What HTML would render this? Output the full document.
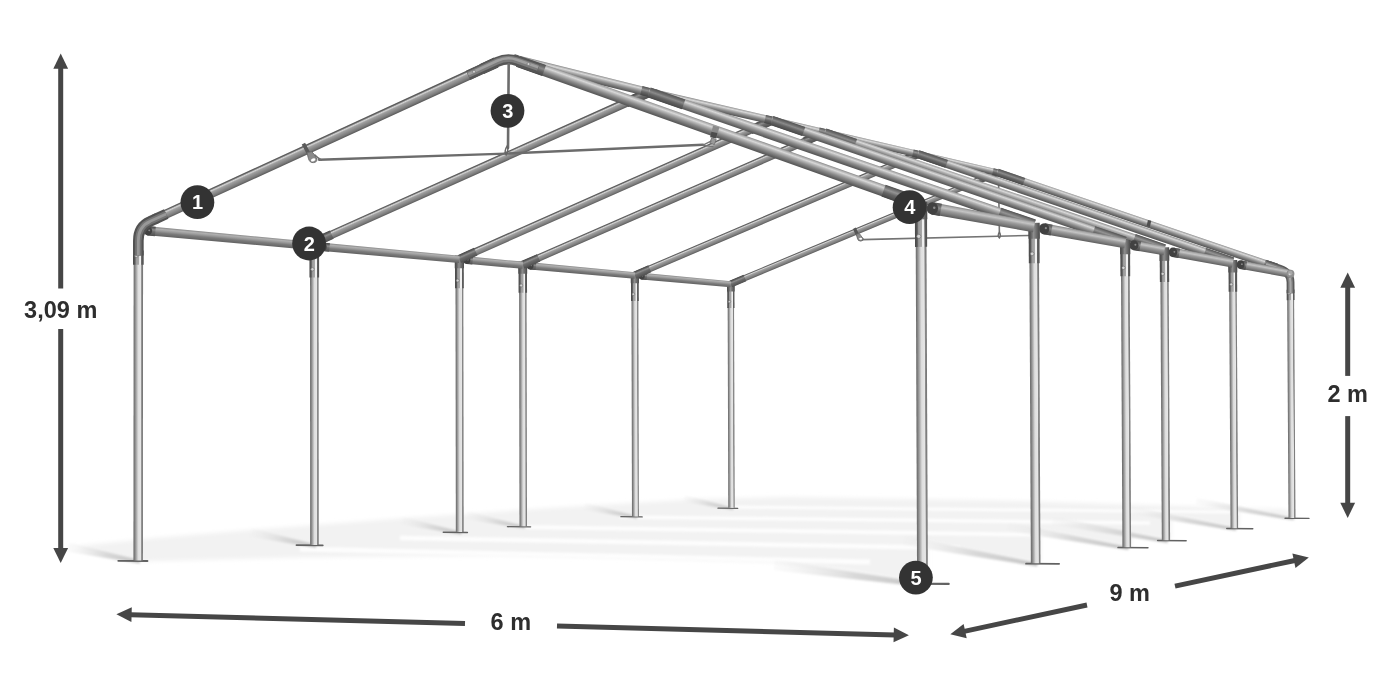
<!DOCTYPE html>
<html><head><meta charset="utf-8"><title>Tent frame 6 x 9 m</title>
<style>
html,body{margin:0;padding:0;background:#fff;}
body{width:1400px;height:700px;overflow:hidden;}
svg{display:block;font-family:"Liberation Sans",sans-serif;}
</style></head><body>
<svg width="1400" height="700" viewBox="0 0 1400 700">
<defs>
<linearGradient id="g1" gradientUnits="userSpaceOnUse" x1="133.53" y1="412.18" x2="142.98" y2="412.18"><stop offset="0" stop-color="#6a6a6a"/><stop offset="0.12" stop-color="#7e7e7e"/><stop offset="0.32" stop-color="#b0b0b0"/><stop offset="0.5" stop-color="#dedede"/><stop offset="0.78" stop-color="#e6e6e6"/><stop offset="0.85" stop-color="#8c8c8c"/><stop offset="1" stop-color="#707070"/></linearGradient>
<linearGradient id="g2" gradientUnits="userSpaceOnUse" x1="133" y1="257.71" x2="143.67" y2="257.72"><stop offset="0" stop-color="#484848"/><stop offset="0.18" stop-color="#585858"/><stop offset="0.3" stop-color="#9a9a9a"/><stop offset="0.55" stop-color="#a8a8a8"/><stop offset="0.62" stop-color="#f0f0f0"/><stop offset="0.76" stop-color="#f0f0f0"/><stop offset="0.8" stop-color="#606060"/><stop offset="1" stop-color="#505050"/></linearGradient>
<linearGradient id="g3" gradientUnits="userSpaceOnUse" x1="323.09" y1="136.71" x2="327.08" y2="145.4"><stop offset="0" stop-color="#505050"/><stop offset="0.1" stop-color="#626262"/><stop offset="0.25" stop-color="#d4d4d4"/><stop offset="0.4" stop-color="#a0a0a0"/><stop offset="0.8" stop-color="#7a7a7a"/><stop offset="1" stop-color="#585858"/></linearGradient>
<linearGradient id="g4" gradientUnits="userSpaceOnUse" x1="153.6" y1="214.16" x2="157.87" y2="223.44"><stop offset="0" stop-color="#484848"/><stop offset="0.15" stop-color="#5a5a5a"/><stop offset="0.35" stop-color="#8e8e8e"/><stop offset="0.55" stop-color="#6c6c6c"/><stop offset="1" stop-color="#505050"/></linearGradient>
<linearGradient id="g5" gradientUnits="userSpaceOnUse" x1="486.71" y1="60.92" x2="491.21" y2="70.73"><stop offset="0" stop-color="#484848"/><stop offset="0.15" stop-color="#5a5a5a"/><stop offset="0.35" stop-color="#8e8e8e"/><stop offset="0.55" stop-color="#6c6c6c"/><stop offset="1" stop-color="#505050"/></linearGradient>
<linearGradient id="g6" gradientUnits="userSpaceOnUse" x1="721.38" y1="127.24" x2="717.55" y2="138.05"><stop offset="0" stop-color="#8c8c8c"/><stop offset="0.1" stop-color="#b2b2b2"/><stop offset="0.25" stop-color="#d8d8d8"/><stop offset="0.38" stop-color="#b8b8b8"/><stop offset="0.6" stop-color="#8c8c8c"/><stop offset="0.85" stop-color="#666666"/><stop offset="1" stop-color="#545454"/></linearGradient>
<linearGradient id="g7" gradientUnits="userSpaceOnUse" x1="904.32" y1="191.45" x2="900.14" y2="203.25"><stop offset="0" stop-color="#505050"/><stop offset="0.15" stop-color="#6e6e6e"/><stop offset="0.35" stop-color="#949494"/><stop offset="0.6" stop-color="#666666"/><stop offset="1" stop-color="#444444"/></linearGradient>
<linearGradient id="g8" gradientUnits="userSpaceOnUse" x1="532.99" y1="60.5" x2="529.13" y2="71.4"><stop offset="0" stop-color="#525252"/><stop offset="0.2" stop-color="#6a6a6a"/><stop offset="0.4" stop-color="#8a8a8a"/><stop offset="0.65" stop-color="#626262"/><stop offset="1" stop-color="#484848"/></linearGradient>
<linearGradient id="g9" gradientUnits="userSpaceOnUse" x1="916.41" y1="414.59" x2="927.16" y2="414.54"><stop offset="0" stop-color="#6a6a6a"/><stop offset="0.12" stop-color="#7e7e7e"/><stop offset="0.32" stop-color="#b0b0b0"/><stop offset="0.5" stop-color="#dedede"/><stop offset="0.78" stop-color="#e6e6e6"/><stop offset="0.85" stop-color="#8c8c8c"/><stop offset="1" stop-color="#707070"/></linearGradient>
<linearGradient id="g10" gradientUnits="userSpaceOnUse" x1="914.95" y1="225.64" x2="927.08" y2="225.59"><stop offset="0" stop-color="#484848"/><stop offset="0.18" stop-color="#585858"/><stop offset="0.3" stop-color="#9a9a9a"/><stop offset="0.55" stop-color="#a8a8a8"/><stop offset="0.62" stop-color="#f0f0f0"/><stop offset="0.76" stop-color="#f0f0f0"/><stop offset="0.8" stop-color="#606060"/><stop offset="1" stop-color="#505050"/></linearGradient>
<linearGradient id="g11" gradientUnits="userSpaceOnUse" x1="914.64" y1="210.58" x2="927.26" y2="210.53"><stop offset="0" stop-color="#464646"/><stop offset="0.2" stop-color="#5c5c5c"/><stop offset="0.45" stop-color="#8e8e8e"/><stop offset="0.7" stop-color="#6e6e6e"/><stop offset="1" stop-color="#484848"/></linearGradient>
<linearGradient id="g12" gradientUnits="userSpaceOnUse" x1="231.45" y1="234.13" x2="230.66" y2="242.73"><stop offset="0" stop-color="#8a8a8a"/><stop offset="0.2" stop-color="#b0b0b0"/><stop offset="0.42" stop-color="#989898"/><stop offset="0.62" stop-color="#7c7c7c"/><stop offset="1" stop-color="#626262"/></linearGradient>
<linearGradient id="g13" gradientUnits="userSpaceOnUse" x1="152.03" y1="226.46" x2="151.17" y2="235.82"><stop offset="0" stop-color="#484848"/><stop offset="0.15" stop-color="#5a5a5a"/><stop offset="0.35" stop-color="#8e8e8e"/><stop offset="0.55" stop-color="#6c6c6c"/><stop offset="1" stop-color="#505050"/></linearGradient>
<linearGradient id="g14" gradientUnits="userSpaceOnUse" x1="984.24" y1="212.04" x2="982.2" y2="223.19"><stop offset="0" stop-color="#868686"/><stop offset="0.14" stop-color="#aeaeae"/><stop offset="0.3" stop-color="#c4c4c4"/><stop offset="0.5" stop-color="#9c9c9c"/><stop offset="0.8" stop-color="#787878"/><stop offset="1" stop-color="#5e5e5e"/></linearGradient>
<linearGradient id="g15" gradientUnits="userSpaceOnUse" x1="937.72" y1="203.03" x2="935.5" y2="215.16"><stop offset="0" stop-color="#525252"/><stop offset="0.2" stop-color="#6a6a6a"/><stop offset="0.4" stop-color="#8a8a8a"/><stop offset="0.65" stop-color="#626262"/><stop offset="1" stop-color="#484848"/></linearGradient>
<linearGradient id="g16" gradientUnits="userSpaceOnUse" x1="582.29" y1="71.43" x2="580.18" y2="79.99"><stop offset="0" stop-color="#8c8c8c"/><stop offset="0.1" stop-color="#b2b2b2"/><stop offset="0.25" stop-color="#d8d8d8"/><stop offset="0.38" stop-color="#b8b8b8"/><stop offset="0.6" stop-color="#8c8c8c"/><stop offset="0.85" stop-color="#666666"/><stop offset="1" stop-color="#545454"/></linearGradient>
<linearGradient id="g17" gradientUnits="userSpaceOnUse" x1="516.59" y1="54.65" x2="514.2" y2="64.37"><stop offset="0" stop-color="#505050"/><stop offset="0.15" stop-color="#6e6e6e"/><stop offset="0.35" stop-color="#949494"/><stop offset="0.6" stop-color="#666666"/><stop offset="1" stop-color="#444444"/></linearGradient>
<linearGradient id="g18" gradientUnits="userSpaceOnUse" x1="646.27" y1="87.05" x2="644.1" y2="95.85"><stop offset="0" stop-color="#505050"/><stop offset="0.15" stop-color="#6e6e6e"/><stop offset="0.35" stop-color="#949494"/><stop offset="0.6" stop-color="#666666"/><stop offset="1" stop-color="#444444"/></linearGradient>
<linearGradient id="g19" gradientUnits="userSpaceOnUse" x1="310.09" y1="410.8" x2="318.63" y2="410.8"><stop offset="0" stop-color="#6a6a6a"/><stop offset="0.12" stop-color="#7e7e7e"/><stop offset="0.32" stop-color="#b0b0b0"/><stop offset="0.5" stop-color="#dedede"/><stop offset="0.78" stop-color="#e6e6e6"/><stop offset="0.85" stop-color="#8c8c8c"/><stop offset="1" stop-color="#707070"/></linearGradient>
<linearGradient id="g20" gradientUnits="userSpaceOnUse" x1="309.46" y1="260.73" x2="319.11" y2="260.72"><stop offset="0" stop-color="#484848"/><stop offset="0.18" stop-color="#585858"/><stop offset="0.3" stop-color="#9a9a9a"/><stop offset="0.55" stop-color="#a8a8a8"/><stop offset="0.62" stop-color="#f0f0f0"/><stop offset="0.76" stop-color="#f0f0f0"/><stop offset="0.8" stop-color="#606060"/><stop offset="1" stop-color="#505050"/></linearGradient>
<linearGradient id="g21" gradientUnits="userSpaceOnUse" x1="309.27" y1="248.76" x2="319.3" y2="248.76"><stop offset="0" stop-color="#464646"/><stop offset="0.2" stop-color="#5c5c5c"/><stop offset="0.45" stop-color="#8e8e8e"/><stop offset="0.7" stop-color="#6e6e6e"/><stop offset="1" stop-color="#484848"/></linearGradient>
<linearGradient id="g22" gradientUnits="userSpaceOnUse" x1="479.89" y1="163.51" x2="483.41" y2="171.36"><stop offset="0" stop-color="#505050"/><stop offset="0.1" stop-color="#626262"/><stop offset="0.25" stop-color="#d4d4d4"/><stop offset="0.4" stop-color="#a0a0a0"/><stop offset="0.8" stop-color="#7a7a7a"/><stop offset="1" stop-color="#585858"/></linearGradient>
<linearGradient id="g23" gradientUnits="userSpaceOnUse" x1="321.13" y1="234.35" x2="324.9" y2="242.77"><stop offset="0" stop-color="#484848"/><stop offset="0.15" stop-color="#5a5a5a"/><stop offset="0.35" stop-color="#8e8e8e"/><stop offset="0.55" stop-color="#6c6c6c"/><stop offset="1" stop-color="#505050"/></linearGradient>
<linearGradient id="g24" gradientUnits="userSpaceOnUse" x1="635.59" y1="93.1" x2="639.56" y2="101.96"><stop offset="0" stop-color="#484848"/><stop offset="0.15" stop-color="#5a5a5a"/><stop offset="0.35" stop-color="#8e8e8e"/><stop offset="0.55" stop-color="#6c6c6c"/><stop offset="1" stop-color="#505050"/></linearGradient>
<linearGradient id="g25" gradientUnits="userSpaceOnUse" x1="843.21" y1="153.8" x2="839.87" y2="163.5"><stop offset="0" stop-color="#8c8c8c"/><stop offset="0.1" stop-color="#b2b2b2"/><stop offset="0.25" stop-color="#d8d8d8"/><stop offset="0.38" stop-color="#b8b8b8"/><stop offset="0.6" stop-color="#8c8c8c"/><stop offset="0.85" stop-color="#666666"/><stop offset="1" stop-color="#545454"/></linearGradient>
<linearGradient id="g26" gradientUnits="userSpaceOnUse" x1="1018.57" y1="213.66" x2="1014.93" y2="224.23"><stop offset="0" stop-color="#505050"/><stop offset="0.15" stop-color="#6e6e6e"/><stop offset="0.35" stop-color="#949494"/><stop offset="0.6" stop-color="#666666"/><stop offset="1" stop-color="#444444"/></linearGradient>
<linearGradient id="g27" gradientUnits="userSpaceOnUse" x1="668.02" y1="93.45" x2="664.64" y2="103.25"><stop offset="0" stop-color="#525252"/><stop offset="0.2" stop-color="#6a6a6a"/><stop offset="0.4" stop-color="#8a8a8a"/><stop offset="0.65" stop-color="#626262"/><stop offset="1" stop-color="#484848"/></linearGradient>
<linearGradient id="g28" gradientUnits="userSpaceOnUse" x1="1030.15" y1="412.78" x2="1039.74" y2="412.73"><stop offset="0" stop-color="#6a6a6a"/><stop offset="0.12" stop-color="#7e7e7e"/><stop offset="0.32" stop-color="#b0b0b0"/><stop offset="0.5" stop-color="#dedede"/><stop offset="0.78" stop-color="#e6e6e6"/><stop offset="0.85" stop-color="#8c8c8c"/><stop offset="1" stop-color="#707070"/></linearGradient>
<linearGradient id="g29" gradientUnits="userSpaceOnUse" x1="1028.73" y1="244.23" x2="1039.56" y2="244.18"><stop offset="0" stop-color="#484848"/><stop offset="0.18" stop-color="#585858"/><stop offset="0.3" stop-color="#9a9a9a"/><stop offset="0.55" stop-color="#a8a8a8"/><stop offset="0.62" stop-color="#f0f0f0"/><stop offset="0.76" stop-color="#f0f0f0"/><stop offset="0.8" stop-color="#606060"/><stop offset="1" stop-color="#505050"/></linearGradient>
<linearGradient id="g30" gradientUnits="userSpaceOnUse" x1="1028.45" y1="230.8" x2="1039.71" y2="230.75"><stop offset="0" stop-color="#464646"/><stop offset="0.2" stop-color="#5c5c5c"/><stop offset="0.45" stop-color="#8e8e8e"/><stop offset="0.7" stop-color="#6e6e6e"/><stop offset="1" stop-color="#484848"/></linearGradient>
<linearGradient id="g31" gradientUnits="userSpaceOnUse" x1="391.43" y1="249.21" x2="390.71" y2="257.02"><stop offset="0" stop-color="#8a8a8a"/><stop offset="0.2" stop-color="#b0b0b0"/><stop offset="0.42" stop-color="#989898"/><stop offset="0.62" stop-color="#7c7c7c"/><stop offset="1" stop-color="#626262"/></linearGradient>
<linearGradient id="g32" gradientUnits="userSpaceOnUse" x1="326.54" y1="242.93" x2="325.76" y2="251.38"><stop offset="0" stop-color="#484848"/><stop offset="0.15" stop-color="#5a5a5a"/><stop offset="0.35" stop-color="#8e8e8e"/><stop offset="0.55" stop-color="#6c6c6c"/><stop offset="1" stop-color="#505050"/></linearGradient>
<linearGradient id="g33" gradientUnits="userSpaceOnUse" x1="1085.58" y1="231.17" x2="1083.75" y2="241.16"><stop offset="0" stop-color="#868686"/><stop offset="0.14" stop-color="#aeaeae"/><stop offset="0.3" stop-color="#c4c4c4"/><stop offset="0.5" stop-color="#9c9c9c"/><stop offset="0.8" stop-color="#787878"/><stop offset="1" stop-color="#5e5e5e"/></linearGradient>
<linearGradient id="g34" gradientUnits="userSpaceOnUse" x1="1048.89" y1="224.03" x2="1046.91" y2="234.86"><stop offset="0" stop-color="#525252"/><stop offset="0.2" stop-color="#6a6a6a"/><stop offset="0.4" stop-color="#8a8a8a"/><stop offset="0.65" stop-color="#626262"/><stop offset="1" stop-color="#484848"/></linearGradient>
<linearGradient id="g35" gradientUnits="userSpaceOnUse" x1="711.3" y1="102.56" x2="709.52" y2="110.34"><stop offset="0" stop-color="#8c8c8c"/><stop offset="0.1" stop-color="#b2b2b2"/><stop offset="0.25" stop-color="#d8d8d8"/><stop offset="0.38" stop-color="#b8b8b8"/><stop offset="0.6" stop-color="#8c8c8c"/><stop offset="0.85" stop-color="#666666"/><stop offset="1" stop-color="#545454"/></linearGradient>
<linearGradient id="g36" gradientUnits="userSpaceOnUse" x1="654.4" y1="89.01" x2="652.39" y2="97.79"><stop offset="0" stop-color="#505050"/><stop offset="0.15" stop-color="#6e6e6e"/><stop offset="0.35" stop-color="#949494"/><stop offset="0.6" stop-color="#666666"/><stop offset="1" stop-color="#444444"/></linearGradient>
<linearGradient id="g37" gradientUnits="userSpaceOnUse" x1="769.35" y1="115.72" x2="767.52" y2="123.74"><stop offset="0" stop-color="#505050"/><stop offset="0.15" stop-color="#6e6e6e"/><stop offset="0.35" stop-color="#949494"/><stop offset="0.6" stop-color="#666666"/><stop offset="1" stop-color="#444444"/></linearGradient>
<linearGradient id="g38" gradientUnits="userSpaceOnUse" x1="455.68" y1="409.67" x2="463.47" y2="409.66"><stop offset="0" stop-color="#6a6a6a"/><stop offset="0.12" stop-color="#7e7e7e"/><stop offset="0.32" stop-color="#b0b0b0"/><stop offset="0.5" stop-color="#dedede"/><stop offset="0.78" stop-color="#e6e6e6"/><stop offset="0.85" stop-color="#8c8c8c"/><stop offset="1" stop-color="#707070"/></linearGradient>
<linearGradient id="g39" gradientUnits="userSpaceOnUse" x1="454.98" y1="272.76" x2="463.78" y2="272.75"><stop offset="0" stop-color="#484848"/><stop offset="0.18" stop-color="#585858"/><stop offset="0.3" stop-color="#9a9a9a"/><stop offset="0.55" stop-color="#a8a8a8"/><stop offset="0.62" stop-color="#f0f0f0"/><stop offset="0.76" stop-color="#f0f0f0"/><stop offset="0.8" stop-color="#606060"/><stop offset="1" stop-color="#505050"/></linearGradient>
<linearGradient id="g40" gradientUnits="userSpaceOnUse" x1="454.79" y1="261.84" x2="463.94" y2="261.83"><stop offset="0" stop-color="#464646"/><stop offset="0.2" stop-color="#5c5c5c"/><stop offset="0.45" stop-color="#8e8e8e"/><stop offset="0.7" stop-color="#6e6e6e"/><stop offset="1" stop-color="#484848"/></linearGradient>
<linearGradient id="g41" gradientUnits="userSpaceOnUse" x1="613.99" y1="186.16" x2="617.17" y2="193.32"><stop offset="0" stop-color="#505050"/><stop offset="0.1" stop-color="#626262"/><stop offset="0.25" stop-color="#d4d4d4"/><stop offset="0.4" stop-color="#a0a0a0"/><stop offset="0.8" stop-color="#7a7a7a"/><stop offset="1" stop-color="#585858"/></linearGradient>
<linearGradient id="g42" gradientUnits="userSpaceOnUse" x1="465.85" y1="251.49" x2="469.26" y2="259.19"><stop offset="0" stop-color="#484848"/><stop offset="0.15" stop-color="#5a5a5a"/><stop offset="0.35" stop-color="#8e8e8e"/><stop offset="0.55" stop-color="#6c6c6c"/><stop offset="1" stop-color="#505050"/></linearGradient>
<linearGradient id="g43" gradientUnits="userSpaceOnUse" x1="759.37" y1="121.19" x2="762.94" y2="129.25"><stop offset="0" stop-color="#484848"/><stop offset="0.15" stop-color="#5a5a5a"/><stop offset="0.35" stop-color="#8e8e8e"/><stop offset="0.55" stop-color="#6c6c6c"/><stop offset="1" stop-color="#505050"/></linearGradient>
<linearGradient id="g44" gradientUnits="userSpaceOnUse" x1="949.98" y1="176.73" x2="946.96" y2="185.52"><stop offset="0" stop-color="#8c8c8c"/><stop offset="0.1" stop-color="#b2b2b2"/><stop offset="0.25" stop-color="#d8d8d8"/><stop offset="0.38" stop-color="#b8b8b8"/><stop offset="0.6" stop-color="#8c8c8c"/><stop offset="0.85" stop-color="#666666"/><stop offset="1" stop-color="#545454"/></linearGradient>
<linearGradient id="g45" gradientUnits="userSpaceOnUse" x1="1110.99" y1="231.56" x2="1107.72" y2="241.11"><stop offset="0" stop-color="#505050"/><stop offset="0.15" stop-color="#6e6e6e"/><stop offset="0.35" stop-color="#949494"/><stop offset="0.6" stop-color="#666666"/><stop offset="1" stop-color="#444444"/></linearGradient>
<linearGradient id="g46" gradientUnits="userSpaceOnUse" x1="789.29" y1="121.53" x2="786.23" y2="130.43"><stop offset="0" stop-color="#525252"/><stop offset="0.2" stop-color="#6a6a6a"/><stop offset="0.4" stop-color="#8a8a8a"/><stop offset="0.65" stop-color="#626262"/><stop offset="1" stop-color="#484848"/></linearGradient>
<linearGradient id="g47" gradientUnits="userSpaceOnUse" x1="1121.71" y1="411.33" x2="1130.37" y2="411.28"><stop offset="0" stop-color="#6a6a6a"/><stop offset="0.12" stop-color="#7e7e7e"/><stop offset="0.32" stop-color="#b0b0b0"/><stop offset="0.5" stop-color="#dedede"/><stop offset="0.78" stop-color="#e6e6e6"/><stop offset="0.85" stop-color="#8c8c8c"/><stop offset="1" stop-color="#707070"/></linearGradient>
<linearGradient id="g48" gradientUnits="userSpaceOnUse" x1="1120.35" y1="259.21" x2="1130.13" y2="259.16"><stop offset="0" stop-color="#484848"/><stop offset="0.18" stop-color="#585858"/><stop offset="0.3" stop-color="#9a9a9a"/><stop offset="0.55" stop-color="#a8a8a8"/><stop offset="0.62" stop-color="#f0f0f0"/><stop offset="0.76" stop-color="#f0f0f0"/><stop offset="0.8" stop-color="#606060"/><stop offset="1" stop-color="#505050"/></linearGradient>
<linearGradient id="g49" gradientUnits="userSpaceOnUse" x1="1120.09" y1="247.08" x2="1130.26" y2="247.03"><stop offset="0" stop-color="#464646"/><stop offset="0.2" stop-color="#5c5c5c"/><stop offset="0.45" stop-color="#8e8e8e"/><stop offset="0.7" stop-color="#6e6e6e"/><stop offset="1" stop-color="#484848"/></linearGradient>
<linearGradient id="g50" gradientUnits="userSpaceOnUse" x1="495.12" y1="258.98" x2="494.45" y2="266.28"><stop offset="0" stop-color="#8a8a8a"/><stop offset="0.2" stop-color="#b0b0b0"/><stop offset="0.42" stop-color="#989898"/><stop offset="0.62" stop-color="#7c7c7c"/><stop offset="1" stop-color="#626262"/></linearGradient>
<linearGradient id="g51" gradientUnits="userSpaceOnUse" x1="470.08" y1="256.47" x2="469.37" y2="264.19"><stop offset="0" stop-color="#484848"/><stop offset="0.15" stop-color="#5a5a5a"/><stop offset="0.35" stop-color="#8e8e8e"/><stop offset="0.55" stop-color="#6c6c6c"/><stop offset="1" stop-color="#505050"/></linearGradient>
<linearGradient id="g52" gradientUnits="userSpaceOnUse" x1="1149.97" y1="243.32" x2="1148.28" y2="252.59"><stop offset="0" stop-color="#868686"/><stop offset="0.14" stop-color="#aeaeae"/><stop offset="0.3" stop-color="#c4c4c4"/><stop offset="0.5" stop-color="#9c9c9c"/><stop offset="0.8" stop-color="#787878"/><stop offset="1" stop-color="#5e5e5e"/></linearGradient>
<linearGradient id="g53" gradientUnits="userSpaceOnUse" x1="1137.98" y1="240.86" x2="1136.19" y2="250.64"><stop offset="0" stop-color="#525252"/><stop offset="0.2" stop-color="#6a6a6a"/><stop offset="0.4" stop-color="#8a8a8a"/><stop offset="0.65" stop-color="#626262"/><stop offset="1" stop-color="#484848"/></linearGradient>
<linearGradient id="g54" gradientUnits="userSpaceOnUse" x1="799.17" y1="122.99" x2="797.5" y2="130.23"><stop offset="0" stop-color="#8c8c8c"/><stop offset="0.1" stop-color="#b2b2b2"/><stop offset="0.25" stop-color="#d8d8d8"/><stop offset="0.38" stop-color="#b8b8b8"/><stop offset="0.6" stop-color="#8c8c8c"/><stop offset="0.85" stop-color="#666666"/><stop offset="1" stop-color="#545454"/></linearGradient>
<linearGradient id="g55" gradientUnits="userSpaceOnUse" x1="776.3" y1="117.34" x2="774.47" y2="125.31"><stop offset="0" stop-color="#505050"/><stop offset="0.15" stop-color="#6e6e6e"/><stop offset="0.35" stop-color="#949494"/><stop offset="0.6" stop-color="#666666"/><stop offset="1" stop-color="#444444"/></linearGradient>
<linearGradient id="g56" gradientUnits="userSpaceOnUse" x1="822.69" y1="128.18" x2="820.93" y2="135.84"><stop offset="0" stop-color="#505050"/><stop offset="0.15" stop-color="#6e6e6e"/><stop offset="0.35" stop-color="#949494"/><stop offset="0.6" stop-color="#666666"/><stop offset="1" stop-color="#444444"/></linearGradient>
<linearGradient id="g57" gradientUnits="userSpaceOnUse" x1="519.29" y1="409.18" x2="526.75" y2="409.17"><stop offset="0" stop-color="#6a6a6a"/><stop offset="0.12" stop-color="#7e7e7e"/><stop offset="0.32" stop-color="#b0b0b0"/><stop offset="0.5" stop-color="#dedede"/><stop offset="0.78" stop-color="#e6e6e6"/><stop offset="0.85" stop-color="#8c8c8c"/><stop offset="1" stop-color="#707070"/></linearGradient>
<linearGradient id="g58" gradientUnits="userSpaceOnUse" x1="518.58" y1="278.02" x2="527.01" y2="278"><stop offset="0" stop-color="#484848"/><stop offset="0.18" stop-color="#585858"/><stop offset="0.3" stop-color="#9a9a9a"/><stop offset="0.55" stop-color="#a8a8a8"/><stop offset="0.62" stop-color="#f0f0f0"/><stop offset="0.76" stop-color="#f0f0f0"/><stop offset="0.8" stop-color="#606060"/><stop offset="1" stop-color="#505050"/></linearGradient>
<linearGradient id="g59" gradientUnits="userSpaceOnUse" x1="518.39" y1="267.56" x2="527.16" y2="267.55"><stop offset="0" stop-color="#464646"/><stop offset="0.2" stop-color="#5c5c5c"/><stop offset="0.45" stop-color="#8e8e8e"/><stop offset="0.7" stop-color="#6e6e6e"/><stop offset="1" stop-color="#484848"/></linearGradient>
<linearGradient id="g60" gradientUnits="userSpaceOnUse" x1="672.32" y1="195.33" x2="675.32" y2="202.19"><stop offset="0" stop-color="#505050"/><stop offset="0.1" stop-color="#626262"/><stop offset="0.25" stop-color="#d4d4d4"/><stop offset="0.4" stop-color="#a0a0a0"/><stop offset="0.8" stop-color="#7a7a7a"/><stop offset="1" stop-color="#585858"/></linearGradient>
<linearGradient id="g61" gradientUnits="userSpaceOnUse" x1="529.09" y1="257.64" x2="532.32" y2="265.03"><stop offset="0" stop-color="#484848"/><stop offset="0.15" stop-color="#5a5a5a"/><stop offset="0.35" stop-color="#8e8e8e"/><stop offset="0.55" stop-color="#6c6c6c"/><stop offset="1" stop-color="#505050"/></linearGradient>
<linearGradient id="g62" gradientUnits="userSpaceOnUse" x1="812.92" y1="133.34" x2="816.29" y2="141.06"><stop offset="0" stop-color="#484848"/><stop offset="0.15" stop-color="#5a5a5a"/><stop offset="0.35" stop-color="#8e8e8e"/><stop offset="0.55" stop-color="#6c6c6c"/><stop offset="1" stop-color="#505050"/></linearGradient>
<linearGradient id="g63" gradientUnits="userSpaceOnUse" x1="996.05" y1="186.66" x2="993.17" y2="195.05"><stop offset="0" stop-color="#8c8c8c"/><stop offset="0.1" stop-color="#b2b2b2"/><stop offset="0.25" stop-color="#d8d8d8"/><stop offset="0.38" stop-color="#b8b8b8"/><stop offset="0.6" stop-color="#8c8c8c"/><stop offset="0.85" stop-color="#666666"/><stop offset="1" stop-color="#545454"/></linearGradient>
<linearGradient id="g64" gradientUnits="userSpaceOnUse" x1="1150.77" y1="239.26" x2="1147.65" y2="248.37"><stop offset="0" stop-color="#505050"/><stop offset="0.15" stop-color="#6e6e6e"/><stop offset="0.35" stop-color="#949494"/><stop offset="0.6" stop-color="#666666"/><stop offset="1" stop-color="#444444"/></linearGradient>
<linearGradient id="g65" gradientUnits="userSpaceOnUse" x1="841.7" y1="133.72" x2="838.79" y2="142.24"><stop offset="0" stop-color="#525252"/><stop offset="0.2" stop-color="#6a6a6a"/><stop offset="0.4" stop-color="#8a8a8a"/><stop offset="0.65" stop-color="#626262"/><stop offset="1" stop-color="#484848"/></linearGradient>
<linearGradient id="g66" gradientUnits="userSpaceOnUse" x1="1161.11" y1="410.7" x2="1169.36" y2="410.66"><stop offset="0" stop-color="#6a6a6a"/><stop offset="0.12" stop-color="#7e7e7e"/><stop offset="0.32" stop-color="#b0b0b0"/><stop offset="0.5" stop-color="#dedede"/><stop offset="0.78" stop-color="#e6e6e6"/><stop offset="0.85" stop-color="#8c8c8c"/><stop offset="1" stop-color="#707070"/></linearGradient>
<linearGradient id="g67" gradientUnits="userSpaceOnUse" x1="1159.78" y1="265.65" x2="1169.1" y2="265.6"><stop offset="0" stop-color="#484848"/><stop offset="0.18" stop-color="#585858"/><stop offset="0.3" stop-color="#9a9a9a"/><stop offset="0.55" stop-color="#a8a8a8"/><stop offset="0.62" stop-color="#f0f0f0"/><stop offset="0.76" stop-color="#f0f0f0"/><stop offset="0.8" stop-color="#606060"/><stop offset="1" stop-color="#505050"/></linearGradient>
<linearGradient id="g68" gradientUnits="userSpaceOnUse" x1="1159.53" y1="254.09" x2="1169.22" y2="254.04"><stop offset="0" stop-color="#464646"/><stop offset="0.2" stop-color="#5c5c5c"/><stop offset="0.45" stop-color="#8e8e8e"/><stop offset="0.7" stop-color="#6e6e6e"/><stop offset="1" stop-color="#484848"/></linearGradient>
<linearGradient id="g69" gradientUnits="userSpaceOnUse" x1="582.8" y1="267.25" x2="582.17" y2="274.11"><stop offset="0" stop-color="#8a8a8a"/><stop offset="0.2" stop-color="#b0b0b0"/><stop offset="0.42" stop-color="#989898"/><stop offset="0.62" stop-color="#7c7c7c"/><stop offset="1" stop-color="#626262"/></linearGradient>
<linearGradient id="g70" gradientUnits="userSpaceOnUse" x1="533.38" y1="262.45" x2="532.7" y2="269.84"><stop offset="0" stop-color="#484848"/><stop offset="0.15" stop-color="#5a5a5a"/><stop offset="0.35" stop-color="#8e8e8e"/><stop offset="0.55" stop-color="#6c6c6c"/><stop offset="1" stop-color="#505050"/></linearGradient>
<linearGradient id="g71" gradientUnits="userSpaceOnUse" x1="1203.66" y1="253.45" x2="1202.07" y2="262.11"><stop offset="0" stop-color="#868686"/><stop offset="0.14" stop-color="#aeaeae"/><stop offset="0.3" stop-color="#c4c4c4"/><stop offset="0.5" stop-color="#9c9c9c"/><stop offset="0.8" stop-color="#787878"/><stop offset="1" stop-color="#5e5e5e"/></linearGradient>
<linearGradient id="g72" gradientUnits="userSpaceOnUse" x1="1176.98" y1="248.23" x2="1175.27" y2="257.55"><stop offset="0" stop-color="#525252"/><stop offset="0.2" stop-color="#6a6a6a"/><stop offset="0.4" stop-color="#8a8a8a"/><stop offset="0.65" stop-color="#626262"/><stop offset="1" stop-color="#484848"/></linearGradient>
<linearGradient id="g73" gradientUnits="userSpaceOnUse" x1="872.24" y1="140.05" x2="870.68" y2="146.84"><stop offset="0" stop-color="#8c8c8c"/><stop offset="0.1" stop-color="#b2b2b2"/><stop offset="0.25" stop-color="#d8d8d8"/><stop offset="0.38" stop-color="#b8b8b8"/><stop offset="0.6" stop-color="#8c8c8c"/><stop offset="0.85" stop-color="#666666"/><stop offset="1" stop-color="#545454"/></linearGradient>
<linearGradient id="g74" gradientUnits="userSpaceOnUse" x1="829.03" y1="129.66" x2="827.27" y2="137.28"><stop offset="0" stop-color="#505050"/><stop offset="0.15" stop-color="#6e6e6e"/><stop offset="0.35" stop-color="#949494"/><stop offset="0.6" stop-color="#666666"/><stop offset="1" stop-color="#444444"/></linearGradient>
<linearGradient id="g75" gradientUnits="userSpaceOnUse" x1="916.27" y1="150.05" x2="914.65" y2="157.1"><stop offset="0" stop-color="#505050"/><stop offset="0.15" stop-color="#6e6e6e"/><stop offset="0.35" stop-color="#949494"/><stop offset="0.6" stop-color="#666666"/><stop offset="1" stop-color="#444444"/></linearGradient>
<linearGradient id="g76" gradientUnits="userSpaceOnUse" x1="631.72" y1="408.31" x2="638.61" y2="408.29"><stop offset="0" stop-color="#6a6a6a"/><stop offset="0.12" stop-color="#7e7e7e"/><stop offset="0.32" stop-color="#b0b0b0"/><stop offset="0.5" stop-color="#dedede"/><stop offset="0.78" stop-color="#e6e6e6"/><stop offset="0.85" stop-color="#8c8c8c"/><stop offset="1" stop-color="#707070"/></linearGradient>
<linearGradient id="g77" gradientUnits="userSpaceOnUse" x1="630.99" y1="287.31" x2="638.76" y2="287.29"><stop offset="0" stop-color="#484848"/><stop offset="0.18" stop-color="#585858"/><stop offset="0.3" stop-color="#9a9a9a"/><stop offset="0.55" stop-color="#a8a8a8"/><stop offset="0.62" stop-color="#f0f0f0"/><stop offset="0.76" stop-color="#f0f0f0"/><stop offset="0.8" stop-color="#606060"/><stop offset="1" stop-color="#505050"/></linearGradient>
<linearGradient id="g78" gradientUnits="userSpaceOnUse" x1="630.81" y1="277.67" x2="638.9" y2="277.65"><stop offset="0" stop-color="#464646"/><stop offset="0.2" stop-color="#5c5c5c"/><stop offset="0.45" stop-color="#8e8e8e"/><stop offset="0.7" stop-color="#6e6e6e"/><stop offset="1" stop-color="#484848"/></linearGradient>
<linearGradient id="g79" gradientUnits="userSpaceOnUse" x1="775.09" y1="211.47" x2="777.8" y2="217.82"><stop offset="0" stop-color="#505050"/><stop offset="0.1" stop-color="#626262"/><stop offset="0.25" stop-color="#d4d4d4"/><stop offset="0.4" stop-color="#a0a0a0"/><stop offset="0.8" stop-color="#7a7a7a"/><stop offset="1" stop-color="#585858"/></linearGradient>
<linearGradient id="g80" gradientUnits="userSpaceOnUse" x1="640.85" y1="268.51" x2="643.78" y2="275.35"><stop offset="0" stop-color="#484848"/><stop offset="0.15" stop-color="#5a5a5a"/><stop offset="0.35" stop-color="#8e8e8e"/><stop offset="0.55" stop-color="#6c6c6c"/><stop offset="1" stop-color="#505050"/></linearGradient>
<linearGradient id="g81" gradientUnits="userSpaceOnUse" x1="906.93" y1="154.7" x2="909.97" y2="161.83"><stop offset="0" stop-color="#484848"/><stop offset="0.15" stop-color="#5a5a5a"/><stop offset="0.35" stop-color="#8e8e8e"/><stop offset="0.55" stop-color="#6c6c6c"/><stop offset="1" stop-color="#505050"/></linearGradient>
<linearGradient id="g82" gradientUnits="userSpaceOnUse" x1="1076.72" y1="204.07" x2="1074.09" y2="211.76"><stop offset="0" stop-color="#8c8c8c"/><stop offset="0.1" stop-color="#b2b2b2"/><stop offset="0.25" stop-color="#d8d8d8"/><stop offset="0.38" stop-color="#b8b8b8"/><stop offset="0.6" stop-color="#8c8c8c"/><stop offset="0.85" stop-color="#666666"/><stop offset="1" stop-color="#545454"/></linearGradient>
<linearGradient id="g83" gradientUnits="userSpaceOnUse" x1="1220.21" y1="252.72" x2="1217.36" y2="261.06"><stop offset="0" stop-color="#505050"/><stop offset="0.15" stop-color="#6e6e6e"/><stop offset="0.35" stop-color="#949494"/><stop offset="0.6" stop-color="#666666"/><stop offset="1" stop-color="#444444"/></linearGradient>
<linearGradient id="g84" gradientUnits="userSpaceOnUse" x1="933.69" y1="155.14" x2="931.02" y2="162.97"><stop offset="0" stop-color="#525252"/><stop offset="0.2" stop-color="#6a6a6a"/><stop offset="0.4" stop-color="#8a8a8a"/><stop offset="0.65" stop-color="#626262"/><stop offset="1" stop-color="#484848"/></linearGradient>
<linearGradient id="g85" gradientUnits="userSpaceOnUse" x1="1229.86" y1="409.61" x2="1237.41" y2="409.57"><stop offset="0" stop-color="#6a6a6a"/><stop offset="0.12" stop-color="#7e7e7e"/><stop offset="0.32" stop-color="#b0b0b0"/><stop offset="0.5" stop-color="#dedede"/><stop offset="0.78" stop-color="#e6e6e6"/><stop offset="0.85" stop-color="#8c8c8c"/><stop offset="1" stop-color="#707070"/></linearGradient>
<linearGradient id="g86" gradientUnits="userSpaceOnUse" x1="1228.59" y1="276.9" x2="1237.12" y2="276.85"><stop offset="0" stop-color="#484848"/><stop offset="0.18" stop-color="#585858"/><stop offset="0.3" stop-color="#9a9a9a"/><stop offset="0.55" stop-color="#a8a8a8"/><stop offset="0.62" stop-color="#f0f0f0"/><stop offset="0.76" stop-color="#f0f0f0"/><stop offset="0.8" stop-color="#606060"/><stop offset="1" stop-color="#505050"/></linearGradient>
<linearGradient id="g87" gradientUnits="userSpaceOnUse" x1="1228.35" y1="266.32" x2="1237.23" y2="266.26"><stop offset="0" stop-color="#464646"/><stop offset="0.2" stop-color="#5c5c5c"/><stop offset="0.45" stop-color="#8e8e8e"/><stop offset="0.7" stop-color="#6e6e6e"/><stop offset="1" stop-color="#484848"/></linearGradient>
<linearGradient id="g88" gradientUnits="userSpaceOnUse" x1="686.49" y1="277.02" x2="685.91" y2="283.37"><stop offset="0" stop-color="#8a8a8a"/><stop offset="0.2" stop-color="#b0b0b0"/><stop offset="0.42" stop-color="#989898"/><stop offset="0.62" stop-color="#7c7c7c"/><stop offset="1" stop-color="#626262"/></linearGradient>
<linearGradient id="g89" gradientUnits="userSpaceOnUse" x1="644.58" y1="272.94" x2="643.96" y2="279.76"><stop offset="0" stop-color="#484848"/><stop offset="0.15" stop-color="#5a5a5a"/><stop offset="0.35" stop-color="#8e8e8e"/><stop offset="0.55" stop-color="#6c6c6c"/><stop offset="1" stop-color="#505050"/></linearGradient>
<linearGradient id="g90" gradientUnits="userSpaceOnUse" x1="1266.26" y1="265.26" x2="1264.8" y2="273.22"><stop offset="0" stop-color="#868686"/><stop offset="0.14" stop-color="#aeaeae"/><stop offset="0.3" stop-color="#c4c4c4"/><stop offset="0.5" stop-color="#9c9c9c"/><stop offset="0.8" stop-color="#787878"/><stop offset="1" stop-color="#5e5e5e"/></linearGradient>
<linearGradient id="g91" gradientUnits="userSpaceOnUse" x1="1244.25" y1="260.94" x2="1242.69" y2="269.47"><stop offset="0" stop-color="#525252"/><stop offset="0.2" stop-color="#6a6a6a"/><stop offset="0.4" stop-color="#8a8a8a"/><stop offset="0.65" stop-color="#626262"/><stop offset="1" stop-color="#484848"/></linearGradient>
<linearGradient id="g92" gradientUnits="userSpaceOnUse" x1="958.38" y1="160.16" x2="956.94" y2="166.42"><stop offset="0" stop-color="#8c8c8c"/><stop offset="0.1" stop-color="#b2b2b2"/><stop offset="0.25" stop-color="#d8d8d8"/><stop offset="0.38" stop-color="#b8b8b8"/><stop offset="0.6" stop-color="#8c8c8c"/><stop offset="0.85" stop-color="#666666"/><stop offset="1" stop-color="#545454"/></linearGradient>
<linearGradient id="g93" gradientUnits="userSpaceOnUse" x1="921.62" y1="151.3" x2="920.01" y2="158.31"><stop offset="0" stop-color="#505050"/><stop offset="0.15" stop-color="#6e6e6e"/><stop offset="0.35" stop-color="#949494"/><stop offset="0.6" stop-color="#666666"/><stop offset="1" stop-color="#444444"/></linearGradient>
<linearGradient id="g94" gradientUnits="userSpaceOnUse" x1="995.81" y1="168.65" x2="994.31" y2="175.16"><stop offset="0" stop-color="#505050"/><stop offset="0.15" stop-color="#6e6e6e"/><stop offset="0.35" stop-color="#949494"/><stop offset="0.6" stop-color="#666666"/><stop offset="1" stop-color="#444444"/></linearGradient>
<linearGradient id="g95" gradientUnits="userSpaceOnUse" x1="727.98" y1="407.56" x2="734.36" y2="407.54"><stop offset="0" stop-color="#6a6a6a"/><stop offset="0.12" stop-color="#7e7e7e"/><stop offset="0.32" stop-color="#b0b0b0"/><stop offset="0.5" stop-color="#dedede"/><stop offset="0.78" stop-color="#e6e6e6"/><stop offset="0.85" stop-color="#8c8c8c"/><stop offset="1" stop-color="#707070"/></linearGradient>
<linearGradient id="g96" gradientUnits="userSpaceOnUse" x1="727.23" y1="295.27" x2="734.45" y2="295.25"><stop offset="0" stop-color="#484848"/><stop offset="0.18" stop-color="#585858"/><stop offset="0.3" stop-color="#9a9a9a"/><stop offset="0.55" stop-color="#a8a8a8"/><stop offset="0.62" stop-color="#f0f0f0"/><stop offset="0.76" stop-color="#f0f0f0"/><stop offset="0.8" stop-color="#606060"/><stop offset="1" stop-color="#505050"/></linearGradient>
<linearGradient id="g97" gradientUnits="userSpaceOnUse" x1="727.06" y1="286.32" x2="734.57" y2="286.29"><stop offset="0" stop-color="#464646"/><stop offset="0.2" stop-color="#5c5c5c"/><stop offset="0.45" stop-color="#8e8e8e"/><stop offset="0.7" stop-color="#6e6e6e"/><stop offset="1" stop-color="#484848"/></linearGradient>
<linearGradient id="g98" gradientUnits="userSpaceOnUse" x1="862.8" y1="225.23" x2="865.27" y2="231.14"><stop offset="0" stop-color="#505050"/><stop offset="0.1" stop-color="#626262"/><stop offset="0.25" stop-color="#d4d4d4"/><stop offset="0.4" stop-color="#a0a0a0"/><stop offset="0.8" stop-color="#7a7a7a"/><stop offset="1" stop-color="#585858"/></linearGradient>
<linearGradient id="g99" gradientUnits="userSpaceOnUse" x1="736.52" y1="277.82" x2="739.19" y2="284.19"><stop offset="0" stop-color="#484848"/><stop offset="0.15" stop-color="#5a5a5a"/><stop offset="0.35" stop-color="#8e8e8e"/><stop offset="0.55" stop-color="#6c6c6c"/><stop offset="1" stop-color="#505050"/></linearGradient>
<linearGradient id="g100" gradientUnits="userSpaceOnUse" x1="986.89" y1="172.88" x2="989.66" y2="179.49"><stop offset="0" stop-color="#484848"/><stop offset="0.15" stop-color="#5a5a5a"/><stop offset="0.35" stop-color="#8e8e8e"/><stop offset="0.55" stop-color="#6c6c6c"/><stop offset="1" stop-color="#505050"/></linearGradient>
<linearGradient id="g101" gradientUnits="userSpaceOnUse" x1="1138.19" y1="216.48" x2="1135.77" y2="223.58"><stop offset="0" stop-color="#8c8c8c"/><stop offset="0.1" stop-color="#b2b2b2"/><stop offset="0.25" stop-color="#d8d8d8"/><stop offset="0.38" stop-color="#b8b8b8"/><stop offset="0.6" stop-color="#8c8c8c"/><stop offset="0.85" stop-color="#666666"/><stop offset="1" stop-color="#545454"/></linearGradient>
<linearGradient id="g102" gradientUnits="userSpaceOnUse" x1="1271.91" y1="261.73" x2="1269.29" y2="269.41"><stop offset="0" stop-color="#505050"/><stop offset="0.15" stop-color="#6e6e6e"/><stop offset="0.35" stop-color="#949494"/><stop offset="0.6" stop-color="#666666"/><stop offset="1" stop-color="#444444"/></linearGradient>
<linearGradient id="g103" gradientUnits="userSpaceOnUse" x1="1011.88" y1="173.35" x2="1009.41" y2="180.6"><stop offset="0" stop-color="#525252"/><stop offset="0.2" stop-color="#6a6a6a"/><stop offset="0.4" stop-color="#8a8a8a"/><stop offset="0.65" stop-color="#626262"/><stop offset="1" stop-color="#484848"/></linearGradient>
<linearGradient id="g104" gradientUnits="userSpaceOnUse" x1="1287.83" y1="408.69" x2="1294.79" y2="408.65"><stop offset="0" stop-color="#6a6a6a"/><stop offset="0.12" stop-color="#7e7e7e"/><stop offset="0.32" stop-color="#b0b0b0"/><stop offset="0.5" stop-color="#dedede"/><stop offset="0.78" stop-color="#e6e6e6"/><stop offset="0.85" stop-color="#8c8c8c"/><stop offset="1" stop-color="#707070"/></linearGradient>
<linearGradient id="g105" gradientUnits="userSpaceOnUse" x1="1286.67" y1="294.91" x2="1294.53" y2="294.86"><stop offset="0" stop-color="#484848"/><stop offset="0.18" stop-color="#585858"/><stop offset="0.3" stop-color="#9a9a9a"/><stop offset="0.55" stop-color="#a8a8a8"/><stop offset="0.62" stop-color="#f0f0f0"/><stop offset="0.76" stop-color="#f0f0f0"/><stop offset="0.8" stop-color="#606060"/><stop offset="1" stop-color="#505050"/></linearGradient>
</defs>
<rect width="1400" height="700" fill="#fff"/>
<g id="floor"><defs><filter id="bl" x="-5%" y="-30%" width="110%" height="160%"><feGaussianBlur stdDeviation="2"/></filter><filter id="bl2" x="-10%" y="-60%" width="120%" height="220%"><feGaussianBlur stdDeviation="1.2"/></filter></defs>
<polygon points="78.0,546.0 160.0,537.5 250.0,530.0 400.0,518.5 550.0,508.0 700.0,499.0 790.0,497.0 1000.0,500.5 1285.0,509.5 1298.0,517.9 1292.0,517.9 1239.3,507.4 1239.3,526.2 1234.3,528.2 1171.0,515.5 1171.0,538.3 1166.0,540.3 1131.8,533.4 1131.8,545.2 1126.8,547.2 1040.7,530.0 1040.7,561.3 1035.7,563.3 927.5,541.7 927.5,581.4 922.5,583.4 840.0,569.5 770.0,562.0 640.0,558.0 500.0,555.0 300.0,557.5 137.0,561.5" fill="#f2f2f2" filter="url(#bl)"/>
<line x1="300" y1="549" x2="870" y2="562" stroke="#fdfdfd" stroke-width="5" filter="url(#bl2)"/>
<line x1="400" y1="538" x2="960" y2="548" stroke="#fdfdfd" stroke-width="4.5" filter="url(#bl2)"/>
<line x1="520" y1="527" x2="1060" y2="535" stroke="#fdfdfd" stroke-width="4" filter="url(#bl2)"/>
<line x1="620" y1="517" x2="1150" y2="523" stroke="#fdfdfd" stroke-width="3.6" filter="url(#bl2)"/>
<line x1="720" y1="507" x2="1230" y2="512" stroke="#fdfdfd" stroke-width="3" filter="url(#bl2)"/>
<defs><linearGradient id="ps1" gradientUnits="userSpaceOnUse" x1="138.2" y1="560.5" x2="68.4" y2="543.8"><stop offset="0" stop-color="#c4c4c4"/><stop offset="0.45" stop-color="#d8d8d8"/><stop offset="1" stop-color="#ececec" stop-opacity="0.2"/></linearGradient></defs>
<polygon points="140.3,560.3 68.8,542.4 66.6,551.5 139.5,563.6" fill="url(#ps1)" filter="url(#bl2)"/>
<defs><linearGradient id="ps2" gradientUnits="userSpaceOnUse" x1="314.4" y1="544.9" x2="251.4" y2="529.8"><stop offset="0" stop-color="#c4c4c4"/><stop offset="0.45" stop-color="#d8d8d8"/><stop offset="1" stop-color="#ececec" stop-opacity="0.2"/></linearGradient></defs>
<polygon points="316.5,544.7 251.7,528.5 249.7,536.7 315.8,547.7" fill="url(#ps2)" filter="url(#bl2)"/>
<defs><linearGradient id="ps3" gradientUnits="userSpaceOnUse" x1="459.7" y1="532.0" x2="402.3" y2="518.2"><stop offset="0" stop-color="#c4c4c4"/><stop offset="0.45" stop-color="#d8d8d8"/><stop offset="1" stop-color="#ececec" stop-opacity="0.2"/></linearGradient></defs>
<polygon points="461.8,531.9 402.5,517.1 400.7,524.5 461.2,534.5" fill="url(#ps3)" filter="url(#bl2)"/>
<defs><linearGradient id="ps4" gradientUnits="userSpaceOnUse" x1="523.2" y1="526.3" x2="468.2" y2="513.1"><stop offset="0" stop-color="#c4c4c4"/><stop offset="0.45" stop-color="#d8d8d8"/><stop offset="1" stop-color="#ececec" stop-opacity="0.2"/></linearGradient></defs>
<polygon points="525.3,526.3 468.4,512.1 466.7,519.2 524.7,528.8" fill="url(#ps4)" filter="url(#bl2)"/>
<defs><linearGradient id="ps5" gradientUnits="userSpaceOnUse" x1="635.4" y1="516.4" x2="584.6" y2="504.2"><stop offset="0" stop-color="#c4c4c4"/><stop offset="0.45" stop-color="#d8d8d8"/><stop offset="1" stop-color="#ececec" stop-opacity="0.2"/></linearGradient></defs>
<polygon points="637.5,516.3 584.9,503.2 583.3,509.8 636.9,518.7" fill="url(#ps5)" filter="url(#bl2)"/>
<defs><linearGradient id="ps6" gradientUnits="userSpaceOnUse" x1="731.5" y1="507.9" x2="684.3" y2="496.5"><stop offset="0" stop-color="#c4c4c4"/><stop offset="0.45" stop-color="#d8d8d8"/><stop offset="1" stop-color="#ececec" stop-opacity="0.2"/></linearGradient></defs>
<polygon points="733.5,507.8 684.6,495.6 683.1,501.7 733.0,510.0" fill="url(#ps6)" filter="url(#bl2)"/>
<defs><linearGradient id="ps7" gradientUnits="userSpaceOnUse" x1="922.5" y1="583.4" x2="775.1" y2="561.3"><stop offset="0" stop-color="#c4c4c4"/><stop offset="0.45" stop-color="#d8d8d8"/><stop offset="1" stop-color="#ececec" stop-opacity="0.2"/></linearGradient></defs>
<polygon points="924.6,583.1 775.3,559.7 773.7,570.2 924.0,586.9" fill="url(#ps7)" filter="url(#bl2)"/>
<defs><linearGradient id="ps8" gradientUnits="userSpaceOnUse" x1="1035.7" y1="563.3" x2="904.2" y2="537.0"><stop offset="0" stop-color="#c4c4c4"/><stop offset="0.45" stop-color="#d8d8d8"/><stop offset="1" stop-color="#ececec" stop-opacity="0.2"/></linearGradient></defs>
<polygon points="1037.8,563.1 904.5,535.7 902.6,544.9 1037.1,566.4" fill="url(#ps8)" filter="url(#bl2)"/>
<defs><linearGradient id="ps9" gradientUnits="userSpaceOnUse" x1="1126.8" y1="547.2" x2="1008.1" y2="523.5"><stop offset="0" stop-color="#c4c4c4"/><stop offset="0.45" stop-color="#d8d8d8"/><stop offset="1" stop-color="#ececec" stop-opacity="0.2"/></linearGradient></defs>
<polygon points="1128.8,547.1 1008.4,522.2 1006.7,530.6 1128.2,550.0" fill="url(#ps9)" filter="url(#bl2)"/>
<defs><linearGradient id="ps10" gradientUnits="userSpaceOnUse" x1="1166.0" y1="540.3" x2="1052.8" y2="517.6"><stop offset="0" stop-color="#c4c4c4"/><stop offset="0.45" stop-color="#d8d8d8"/><stop offset="1" stop-color="#ececec" stop-opacity="0.2"/></linearGradient></defs>
<polygon points="1168.0,540.1 1053.1,516.4 1051.5,524.4 1167.5,543.0" fill="url(#ps10)" filter="url(#bl2)"/>
<defs><linearGradient id="ps11" gradientUnits="userSpaceOnUse" x1="1234.3" y1="528.2" x2="1130.9" y2="507.5"><stop offset="0" stop-color="#c4c4c4"/><stop offset="0.45" stop-color="#d8d8d8"/><stop offset="1" stop-color="#ececec" stop-opacity="0.2"/></linearGradient></defs>
<polygon points="1236.4,528.1 1131.1,506.4 1129.6,513.7 1235.9,530.7" fill="url(#ps11)" filter="url(#bl2)"/>
<defs><linearGradient id="ps12" gradientUnits="userSpaceOnUse" x1="1292.0" y1="517.9" x2="1196.6" y2="498.9"><stop offset="0" stop-color="#c4c4c4"/><stop offset="0.45" stop-color="#d8d8d8"/><stop offset="1" stop-color="#ececec" stop-opacity="0.2"/></linearGradient></defs>
<polygon points="1294.1,517.9 1196.8,497.9 1195.5,504.6 1293.6,520.3" fill="url(#ps12)" filter="url(#bl2)"/></g>
<g id="ropes-back"><polyline points="862,239.6 1029,235.5" fill="none" stroke="#747474" stroke-width="1.6" stroke-linecap="round" stroke-linejoin="round"/>
<polyline points="998.6,182 999.4,234" fill="none" stroke="#747474" stroke-width="1.6" stroke-linecap="round" stroke-linejoin="round"/>
<path d="M999.4 232 C998 234 998 236.6 999.4 238 C1000.6 236.6 1000.6 234 999.4 232 Z" fill="none" stroke="#6a6a6a" stroke-width="1.3"/>
<path d="M856.6 233 L858 238 Q858.6 240.6 861 240.4 Q863.2 240.2 862.6 238.6 L860 236.6" fill="none" stroke="#6c6c6c" stroke-width="1.5"/></g>
<g id="frame">
<path d="M718 508.16 L737.75 508.36" stroke="#626262" stroke-width="1.3" stroke-linecap="round"/>
<polygon points="728.27,507.87 727.68,307.25 734.06,307.23 734.66,507.85" fill="url(#g95)"/>
<polygon points="727.27,307.92 727.19,282.62 734.41,282.6 734.49,307.9" fill="url(#g96)"/>
<polygon points="727.07,291.58 727.04,281.06 734.55,281.03 734.58,291.55" fill="url(#g97)"/>
<circle cx="729.51" cy="301.64" r="1.23" fill="#d4d4d4" stroke="#5a5a5a" stroke-width="0.5"/>
<polygon points="729.6,281.06 996.01,169.41 998.53,175.43 732.02,286.85" fill="url(#g98)"/>
<polygon points="729.47,280.78 743.57,274.87 746.24,281.24 732.14,287.13" fill="url(#g99)"/>
<polygon points="977.89,176.65 995.88,169.1 998.66,175.73 980.66,183.25" fill="url(#g100)"/>
<polygon points="1277.93,264.02 998.46,168.94 996.09,175.89 1275.46,271.27" fill="url(#g101)"/>
<polygon points="1278.01,263.8 1265.82,259.65 1263.2,267.33 1275.39,271.49" fill="url(#g102)"/>
<polygon points="1025.26,177.9 998.5,168.8 996.04,176.03 1022.79,185.16" fill="url(#g103)"/>
<path d="M1285.02 518.24 L1308.98 518.44" stroke="#626262" stroke-width="1.34" stroke-linecap="round"/>
<polygon points="1288.51,517.97 1287.15,299.42 1294.1,299.38 1295.47,517.92" fill="url(#g104)"/>
<polygon points="1286.7,300.16 1286.64,289.67 1294.5,289.62 1294.57,300.11" fill="url(#g105)"/>
<circle cx="1289.13" cy="293.3" r="1.34" fill="#d4d4d4" stroke="#5a5a5a" stroke-width="0.5"/>
<path d="M1290.59 293.3 L1290.52 282.33 Q1290.46 272.09 1280.05 268.79 L1266.03 264.01" fill="none" stroke="#5a5a5a" stroke-width="7.86" stroke-linejoin="round"/><path d="M1290.59 293.3 L1290.52 282.33 Q1290.46 272.09 1280.05 268.79 L1266.03 264.01" fill="none" stroke="#808080" stroke-width="4.72" stroke-linejoin="round" transform="translate(0 0)"/><path d="M1290.59 293.3 L1290.52 282.33 Q1290.46 272.09 1280.05 268.79 L1266.03 264.01" fill="none" stroke="#a8a8a8" stroke-width="2.04" stroke-linejoin="round" transform="translate(0 0)"/>
<polygon points="641.89,272.82 731.09,281.23 730.53,287.36 641.29,279.39" fill="url(#g88)"/>
<polygon points="641.9,272.69 647.26,273.19 646.64,280 641.28,279.52" fill="url(#g89)"/>
<ellipse cx="641.59" cy="276.1" rx="3.16" ry="3.43" fill="#414141"/>
<circle cx="642.62" cy="275.76" r="0.7" fill="#8c8c8c"/>
<polygon points="918.79,150.92 997.96,169.41 996.58,175.42 917.3,157.42" fill="url(#g92)"/>
<polygon points="918.85,150.66 924.39,151.95 922.78,158.94 917.24,157.68" fill="url(#g93)"/>
<polygon points="993.61,168.13 998.02,169.17 996.52,175.67 992.1,174.66" fill="url(#g94)"/>
<polygon points="1241.34,260.56 1291.17,269.96 1289.77,277.63 1239.84,268.8" fill="url(#g90)"/>
<polygon points="1241.37,260.39 1247.12,261.48 1245.57,269.98 1239.81,268.96" fill="url(#g91)"/>
<ellipse cx="1240.59" cy="264.68" rx="4.01" ry="4.35" fill="#414141"/>
<circle cx="1241.9" cy="264.24" r="0.87" fill="#8c8c8c"/>
<circle cx="1290.47" cy="273.8" r="3.93" fill="#8e8e8e"/><circle cx="1290.17" cy="273.2" r="2.36" fill="#a8a8a8"/><circle cx="1289.67" cy="274.3" r="0.9" fill="#d8d8d8"/>
<path d="M620.91 516.69 L642.19 516.89" stroke="#626262" stroke-width="1.33" stroke-linecap="round"/>
<polygon points="631.98,516.39 631.47,300.22 638.34,300.2 638.87,516.38" fill="url(#g76)"/>
<polygon points="631.02,300.94 630.95,273.69 638.73,273.67 638.8,300.92" fill="url(#g77)"/>
<polygon points="630.82,283.33 630.79,272 638.88,271.98 638.91,283.31" fill="url(#g78)"/>
<circle cx="633.44" cy="294.18" r="1.33" fill="#d4d4d4" stroke="#5a5a5a" stroke-width="0.5"/>
<polygon points="633.52,272.02 916.66,150.93 919.43,157.41 636.17,278.23" fill="url(#g79)"/>
<polygon points="633.39,271.71 648.32,265.32 651.25,272.17 636.3,278.54" fill="url(#g80)"/>
<polygon points="897.34,158.81 916.52,150.6 919.57,157.74 900.38,165.92" fill="url(#g81)"/>
<polygon points="1234.11,257.72 919.33,150.42 916.76,157.92 1231.42,265.6" fill="url(#g82)"/>
<polygon points="1234.19,257.48 1206.23,247.95 1203.39,256.27 1231.34,265.84" fill="url(#g83)"/>
<polygon points="948,160.02 919.38,150.26 916.71,158.07 945.32,167.87" fill="url(#g84)"/>
<path d="M1226.77 528.45 L1252.77 528.65" stroke="#626262" stroke-width="1.46" stroke-linecap="round"/>
<polygon points="1230.55,528.18 1229.17,291.05 1236.71,291 1238.11,528.13" fill="url(#g85)"/>
<polygon points="1228.67,291.84 1228.5,261.95 1237.03,261.9 1237.21,291.79" fill="url(#g86)"/>
<polygon points="1228.39,272.53 1228.32,260.1 1237.19,260.05 1237.26,272.48" fill="url(#g87)"/>
<circle cx="1231.31" cy="284.41" r="1.46" fill="#d4d4d4" stroke="#5a5a5a" stroke-width="0.5"/>
<polygon points="530.45,262.31 635.15,272.18 634.54,278.79 529.79,269.44" fill="url(#g69)"/>
<polygon points="530.46,262.17 536.3,262.72 535.62,270.1 529.78,269.58" fill="url(#g70)"/>
<ellipse cx="530.12" cy="265.87" rx="3.42" ry="3.72" fill="#414141"/>
<circle cx="531.24" cy="265.5" r="0.74" fill="#8c8c8c"/>
<polygon points="825.69,129.17 918.79,150.92 917.3,157.42 824.06,136.25" fill="url(#g73)"/>
<polygon points="825.75,128.89 832.3,130.42 830.55,138.02 823.99,136.53" fill="url(#g74)"/>
<polygon points="913.69,149.45 918.85,150.66 917.24,157.68 912.07,156.51" fill="url(#g75)"/>
<polygon points="1173.78,247.81 1233.53,259.08 1232.01,267.41 1172.13,256.81" fill="url(#g71)"/>
<polygon points="1173.81,247.63 1180.14,248.82 1178.44,258.11 1172.1,256.99" fill="url(#g72)"/>
<ellipse cx="1172.96" cy="252.31" rx="4.38" ry="4.76" fill="#414141"/>
<circle cx="1174.38" cy="251.83" r="0.95" fill="#8c8c8c"/>
<path d="M507.49 526.65 L530.57 526.85" stroke="#626262" stroke-width="1.44" stroke-linecap="round"/>
<polygon points="519.49,526.35 519.09,292 526.54,291.99 526.96,526.34" fill="url(#g57)"/>
<polygon points="518.6,292.79 518.55,263.25 526.98,263.23 527.04,292.77" fill="url(#g58)"/>
<polygon points="518.4,273.7 518.38,261.42 527.15,261.4 527.17,273.69" fill="url(#g59)"/>
<circle cx="521.24" cy="285.46" r="1.44" fill="#d4d4d4" stroke="#5a5a5a" stroke-width="0.5"/>
<polygon points="521.3,261.45 823.33,129.2 826.41,136.23 524.24,268.16" fill="url(#g60)"/>
<polygon points="521.16,261.12 537.03,254.17 540.27,261.56 524.38,268.5" fill="url(#g61)"/>
<polygon points="802.65,137.84 823.18,128.85 826.56,136.58 806.02,145.55" fill="url(#g62)"/>
<polygon points="1165.83,244.7 826.27,128.63 823.47,136.79 1162.87,253.31" fill="url(#g63)"/>
<polygon points="1165.91,244.44 1135.63,234.09 1132.52,243.18 1162.79,253.57" fill="url(#g64)"/>
<polygon points="857.08,138.98 826.33,128.47 823.42,136.96 854.16,147.51" fill="url(#g65)"/>
<path d="M1157.68 540.56 L1186.11 540.76" stroke="#626262" stroke-width="1.6" stroke-linecap="round"/>
<polygon points="1161.82,540.29 1160.41,281.11 1168.65,281.07 1170.08,540.24" fill="url(#g66)"/>
<polygon points="1159.87,281.99 1159.69,249.32 1169.01,249.27 1169.19,281.93" fill="url(#g67)"/>
<polygon points="1159.57,260.88 1159.49,247.3 1169.19,247.24 1169.26,260.83" fill="url(#g68)"/>
<circle cx="1162.75" cy="273.86" r="1.59" fill="#d4d4d4" stroke="#5a5a5a" stroke-width="0.5"/>
<polygon points="467.13,256.35 523.1,261.62 522.44,268.78 466.45,263.78" fill="url(#g50)"/>
<polygon points="467.15,256.2 473.02,256.75 472.31,264.45 466.44,263.93" fill="url(#g51)"/>
<ellipse cx="466.79" cy="260.06" rx="3.57" ry="3.88" fill="#414141"/>
<circle cx="467.96" cy="259.67" r="0.78" fill="#8c8c8c"/>
<polygon points="772.65,116.8 825.69,129.17 824.06,136.25 770.95,124.2" fill="url(#g54)"/>
<polygon points="772.72,116.51 779.89,118.18 778.06,126.13 770.88,124.5" fill="url(#g55)"/>
<polygon points="819.63,127.46 825.75,128.89 823.99,136.53 817.87,135.15" fill="url(#g56)"/>
<polygon points="1134.75,240.45 1165.19,246.19 1163.53,255.29 1133.03,249.89" fill="url(#g52)"/>
<polygon points="1134.79,240.26 1141.16,241.46 1139.38,251.21 1132.99,250.08" fill="url(#g53)"/>
<ellipse cx="1133.89" cy="245.17" rx="4.59" ry="4.99" fill="#414141"/>
<circle cx="1135.39" cy="244.67" r="1" fill="#8c8c8c"/>
<path d="M443.31 532.28 L467.4 532.48" stroke="#626262" stroke-width="1.51" stroke-linecap="round"/>
<polygon points="455.84,531.99 455.51,287.36 463.29,287.35 463.64,531.98" fill="url(#g38)"/>
<polygon points="455,288.18 454.96,257.34 463.76,257.33 463.81,288.17" fill="url(#g39)"/>
<polygon points="454.8,268.26 454.78,255.43 463.94,255.42 463.95,268.24" fill="url(#g40)"/>
<circle cx="457.76" cy="280.53" r="1.5" fill="#d4d4d4" stroke="#5a5a5a" stroke-width="0.5"/>
<polygon points="457.82,255.48 770.17,116.84 773.42,124.17 460.91,262.46" fill="url(#g41)"/>
<polygon points="457.66,255.13 474.05,247.86 477.46,255.56 461.07,262.81" fill="url(#g42)"/>
<polygon points="748.73,125.91 770.01,116.47 773.59,124.54 752.3,133.96" fill="url(#g43)"/>
<polygon points="1126.7,237.24 773.26,116.23 770.33,124.77 1123.6,246.27" fill="url(#g44)"/>
<polygon points="1126.79,236.96 1095.2,226.15 1091.93,235.68 1123.5,246.54" fill="url(#g45)"/>
<polygon points="805.26,127 773.32,116.06 770.27,124.94 802.19,135.92" fill="url(#g46)"/>
<path d="M1118.09 547.51 L1147.9 547.71" stroke="#626262" stroke-width="1.67" stroke-linecap="round"/>
<polygon points="1122.42,547.23 1121,275.42 1129.64,275.38 1131.09,547.18" fill="url(#g47)"/>
<polygon points="1120.44,276.34 1120.26,242.08 1130.04,242.03 1130.22,276.28" fill="url(#g48)"/>
<polygon points="1120.13,254.21 1120.05,239.96 1130.22,239.91 1130.3,254.15" fill="url(#g49)"/>
<circle cx="1123.46" cy="267.82" r="1.67" fill="#d4d4d4" stroke="#5a5a5a" stroke-width="0.5"/>
<polygon points="323.15,242.77 459.71,255.65 459.02,263.12 322.4,250.92" fill="url(#g31)"/>
<polygon points="323.16,242.61 329.92,243.25 329.14,251.69 322.39,251.08" fill="url(#g32)"/>
<ellipse cx="322.77" cy="246.85" rx="3.91" ry="4.25" fill="#414141"/>
<circle cx="324.05" cy="246.42" r="0.85" fill="#8c8c8c"/>
<polygon points="649.96,88.32 772.64,116.8 770.95,124.21 648.09,96.47" fill="url(#g35)"/>
<polygon points="650.04,88 658.76,90.02 656.76,98.77 648.02,96.8" fill="url(#g36)"/>
<polygon points="765.99,114.94 772.71,116.51 770.88,124.5 764.15,122.98" fill="url(#g37)"/>
<polygon points="1045.13,223.53 1126.03,238.8 1124.28,248.34 1043.21,233.99" fill="url(#g33)"/>
<polygon points="1045.16,223.32 1052.61,224.73 1050.64,235.52 1043.18,234.2" fill="url(#g34)"/>
<ellipse cx="1044.17" cy="228.76" rx="5.08" ry="5.53" fill="#414141"/>
<circle cx="1045.83" cy="228.21" r="1.11" fill="#8c8c8c"/>
<path d="M296.43 545.18 L322.83 545.38" stroke="#626262" stroke-width="1.65" stroke-linecap="round"/>
<polygon points="310.16,544.88 310.03,276.73 318.56,276.72 318.71,544.88" fill="url(#g19)"/>
<polygon points="309.47,277.62 309.46,243.83 319.1,243.82 319.12,277.62" fill="url(#g20)"/>
<polygon points="309.27,255.79 309.26,241.73 319.29,241.73 319.3,255.78" fill="url(#g21)"/>
<circle cx="312.5" cy="269.25" r="1.65" fill="#d4d4d4" stroke="#5a5a5a" stroke-width="0.5"/>
<polygon points="312.56,238.66 647.22,88.37 650.83,96.43 315.99,246.3" fill="url(#g22)"/>
<polygon points="312.39,238.28 329.87,230.43 333.65,238.86 316.16,246.68" fill="url(#g23)"/>
<polygon points="624.14,98.25 647.04,87.96 651.02,96.83 628.11,107.08" fill="url(#g24)"/>
<polygon points="1035.77,219.9 650.64,87.7 647.41,97.1 1032.33,229.9" fill="url(#g25)"/>
<polygon points="1035.88,219.6 1001.26,207.72 997.63,218.26 1032.23,230.2" fill="url(#g26)"/>
<polygon points="685.32,99.39 650.71,87.51 647.35,97.29 681.94,109.22" fill="url(#g27)"/>
<path d="M1026.05 563.64 L1059.08 563.84" stroke="#626262" stroke-width="1.85" stroke-linecap="round"/>
<polygon points="1030.85,563.36 1029.44,262.2 1039.02,262.15 1040.46,563.32" fill="url(#g28)"/>
<polygon points="1028.82,263.21 1028.64,225.26 1039.47,225.21 1039.65,263.16" fill="url(#g29)"/>
<polygon points="1028.49,238.69 1028.41,222.91 1039.67,222.86 1039.75,238.64" fill="url(#g30)"/>
<circle cx="1032.17" cy="253.78" r="1.85" fill="#d4d4d4" stroke="#5a5a5a" stroke-width="0.5"/>
<polygon points="148.24,226.29 314.65,241.97 313.9,250.16 147.42,235.3" fill="url(#g12)"/>
<polygon points="148.26,226.11 155.8,226.82 154.95,236.15 147.4,235.48" fill="url(#g13)"/>
<ellipse cx="147.83" cy="230.79" rx="4.33" ry="4.71" fill="#414141"/>
<circle cx="149.24" cy="230.32" r="0.94" fill="#8c8c8c"/>
<polygon points="514.55,54.52 650.03,88.34 648.03,96.46 512.33,63.53" fill="url(#g16)"/>
<polygon points="514.64,54.16 518.54,55.14 516.15,64.84 512.24,63.89" fill="url(#g17)"/>
<polygon points="642.43,86.09 650.11,88.01 647.95,96.78 640.25,94.92" fill="url(#g18)"/>
<polygon points="933.46,202.46 1035.03,221.63 1033.1,232.2 931.31,214.18" fill="url(#g14)"/>
<polygon points="933.5,202.23 941.95,203.82 939.74,215.91 931.27,214.41" fill="url(#g15)"/>
<ellipse cx="932.38" cy="208.32" rx="5.7" ry="6.19" fill="#414141"/>
<circle cx="934.24" cy="207.7" r="1.24" fill="#8c8c8c"/>
<path d="M118.26 560.83 L147.48 561.03" stroke="#626262" stroke-width="1.83" stroke-linecap="round"/>
<polygon points="133.45,560.52 133.62,263.83 143.05,263.84 142.91,560.53" fill="url(#g1)"/>
<polygon points="133,264.83 133.01,250.6 143.68,250.6 143.67,264.83" fill="url(#g2)"/>
<circle cx="136.35" cy="255.56" r="1.82" fill="#d4d4d4" stroke="#5a5a5a" stroke-width="0.5"/>
<polygon points="152.06,215.38 494.13,58.05 498.23,66.98 155.93,223.82" fill="url(#g3)"/>
<polygon points="151.86,214.96 155.35,213.36 159.61,222.64 156.12,224.24" fill="url(#g4)"/>
<polygon points="479.49,64.24 493.92,57.6 498.43,67.43 483.99,74.04" fill="url(#g5)"/>
<path d="M138.34 255.56 L138.35 240.67 Q138.35 226.45 150.16 221.36 L166.22 213.99" fill="none" stroke="#525252" stroke-width="10.67" stroke-linejoin="round"/><path d="M138.34 255.56 L138.35 240.67 Q138.35 226.45 150.16 221.36 L166.22 213.99" fill="none" stroke="#747474" stroke-width="6.4" stroke-linejoin="round" transform="translate(0 0)"/><path d="M138.34 255.56 L138.35 240.67 Q138.35 226.45 150.16 221.36 L166.22 213.99" fill="none" stroke="#989898" stroke-width="2.77" stroke-linejoin="round" transform="translate(0 0)"/>
<polygon points="922.9,198.38 519.85,56.09 516.15,66.55 918.95,209.56" fill="url(#g6)"/>
<polygon points="923.02,198.05 885.62,184.84 881.45,196.62 918.83,209.89" fill="url(#g7)"/>
<polygon points="546.06,65.11 519.92,55.88 516.07,66.76 542.2,76.04" fill="url(#g8)"/>
<path d="M468.15 75.38 L497.35 61.97 Q507.14 57.48 516.83 60.91 L538.26 68.49" fill="none" stroke="#565656" stroke-width="10.2" stroke-linejoin="round"/><path d="M468.15 75.38 L497.35 61.97 Q507.14 57.48 516.83 60.91 L538.26 68.49" fill="none" stroke="#7c7c7c" stroke-width="6.12" stroke-linejoin="round" transform="translate(0 -0.6)"/><path d="M468.15 75.38 L497.35 61.97 Q507.14 57.48 516.83 60.91 L538.26 68.49" fill="none" stroke="#a0a0a0" stroke-width="2.65" stroke-linejoin="round" transform="translate(0 -1.2)"/>
<circle cx="473.97" cy="71.71" r="1.5" fill="#d0d0d0" stroke="#606060" stroke-width="0.5"/>
<circle cx="528.5" cy="64.04" r="1.5" fill="#d0d0d0" stroke="#606060" stroke-width="0.5"/>
<path d="M911.7 583.68 L948.74 583.88" stroke="#626262" stroke-width="2.08" stroke-linecap="round"/>
<polygon points="917.08,583.4 915.73,245.77 926.46,245.73 927.86,583.36" fill="url(#g9)"/>
<polygon points="915.03,246.9 914.86,204.37 927,204.32 927.17,246.85" fill="url(#g10)"/>
<polygon points="914.68,219.42 914.61,201.74 927.23,201.69 927.3,219.37" fill="url(#g11)"/>
<circle cx="918.8" cy="236.34" r="2.07" fill="#d4d4d4" stroke="#5a5a5a" stroke-width="0.5"/>
</g>
<g id="ropes"><polyline points="319,159.8 506,153.6 703,144.7" fill="none" stroke="#6c6c6c" stroke-width="2.4" stroke-linecap="round" stroke-linejoin="round"/>
<polyline points="508.7,64 508.0,148" fill="none" stroke="#6c6c6c" stroke-width="2.6" stroke-linecap="round" stroke-linejoin="round"/>
<path d="M507.2 146 C505.2 149 504.6 152.5 506.2 155 C507.6 152.5 508.4 149 507.2 146 Z" fill="none" stroke="#666" stroke-width="1.4"/>
<path d="M303.4 143.6 L308.6 153.4" stroke="#5a5a5a" stroke-width="3.8" stroke-linecap="butt"/>
<path d="M307 152.6 L308.4 158.4 Q309.6 163 313.6 162.6 Q317.4 162 316.8 159 L314.4 154.6 L311.6 151.6 Z" fill="#8a8a8a" stroke="#6a6a6a" stroke-width="0.9" stroke-linejoin="round"/>
<ellipse cx="313.2" cy="159.9" rx="2.3" ry="1.5" transform="rotate(-20 313.2 159.9)" fill="#fff"/>
<path d="M314.6 154.8 Q318 158.6 322 160.2" fill="none" stroke="#707070" stroke-width="1.6"/>
<path d="M716.2 126.4 L713.4 137.4" stroke="#8a8a8a" stroke-width="6.4"/>
<path d="M714.4 132.4 L713.2 137.8" stroke="#4c4c4c" stroke-width="6.2"/>
<path d="M711.6 138 L709.8 143.2 L714.4 144.6 L716.2 139.4 Z" fill="#9a9a9a" stroke="#6a6a6a" stroke-width="0.8"/>
<polyline points="703,145.2 711,141.2" fill="none" stroke="#767676" stroke-width="1.3" stroke-linecap="round" stroke-linejoin="round"/>
<polyline points="703,145.4 713,146.6" fill="none" stroke="#767676" stroke-width="1.3" stroke-linecap="round" stroke-linejoin="round"/>
<path d="M854.4 228.2 L857.6 235" stroke="#555" stroke-width="3.2"/>
<path d="M856.4 234.2 L857.4 238.4 Q858.2 241.4 861 241 Q863.6 240.6 863 238.6 L861 235.8 L859.4 233.6 Z" fill="#8c8c8c" stroke="#6a6a6a" stroke-width="0.8"/>
<ellipse cx="860.6" cy="238.8" rx="1.5" ry="1" fill="#fff"/>
<path d="M1149.6 220.4 L1148.2 226.6" stroke="#4e4e4e" stroke-width="3.4"/></g>
<g id="labels" style="opacity:0.999">
<line x1="60.7" y1="548.9" x2="60.7" y2="329" stroke="#464646" stroke-width="5"/><line x1="60.7" y1="288.6" x2="60.7" y2="67.7" stroke="#464646" stroke-width="5"/><polygon points="60.7,53.5 68.1,68.7 53.3,68.7" fill="#464646"/><polygon points="60.7,563.1 68.1,547.9 53.3,547.9" fill="#464646"/>
<text x="60.7" y="317.7" text-anchor="middle" font-size="23.5" font-weight="700" fill="#2e2e2e">3,09 m</text>
<line x1="1347.7" y1="503.8" x2="1347.7" y2="416.1" stroke="#464646" stroke-width="5"/><line x1="1347.7" y1="375.9" x2="1347.7" y2="286.8" stroke="#464646" stroke-width="5"/><polygon points="1347.7,272.6 1355.1,287.8 1340.3,287.8" fill="#464646"/><polygon points="1347.7,518 1355.1,502.8 1340.3,502.8" fill="#464646"/>
<text x="1347.7" y="402" text-anchor="middle" font-size="23.5" font-weight="700" fill="#2e2e2e">2 m</text>
<line x1="130.6" y1="614.68" x2="465" y2="623.54" stroke="#464646" stroke-width="5"/><line x1="557" y1="625.98" x2="894.7" y2="634.92" stroke="#464646" stroke-width="5"/><polygon points="908.9,635.3 893.51,642.29 893.9,627.5" fill="#464646"/><polygon points="116.4,614.3 131.4,622.1 131.79,607.31" fill="#464646"/>
<text x="510.8" y="629.7" text-anchor="middle" font-size="23.5" font-weight="700" fill="#2e2e2e">6 m</text>
<line x1="964.18" y1="631.33" x2="1087" y2="605.02" stroke="#464646" stroke-width="5"/><line x1="1175" y1="586.16" x2="1294.92" y2="560.47" stroke="#464646" stroke-width="5"/><polygon points="1308.8,557.5 1295.49,567.92 1292.39,553.45" fill="#464646"/><polygon points="950.3,634.3 966.71,638.35 963.61,623.88" fill="#464646"/>
<text x="1129.7" y="600.8" text-anchor="middle" font-size="23.5" font-weight="700" fill="#2e2e2e">9 m</text>
<circle cx="197.4" cy="202.2" r="16.9" fill="#333"/><text x="197.6" y="209.2" text-anchor="middle" font-size="20" font-weight="700" fill="#fff">1</text>
<circle cx="309.1" cy="243.5" r="16.9" fill="#333"/><text x="309.3" y="250.5" text-anchor="middle" font-size="20" font-weight="700" fill="#fff">2</text>
<circle cx="507.5" cy="110.8" r="16.9" fill="#333"/><text x="507.7" y="117.8" text-anchor="middle" font-size="20" font-weight="700" fill="#fff">3</text>
<circle cx="909.6" cy="207.2" r="16.9" fill="#333"/><text x="909.8" y="214.2" text-anchor="middle" font-size="20" font-weight="700" fill="#fff">4</text>
<circle cx="915.9" cy="577.6" r="16.9" fill="#333"/><text x="916.1" y="584.6" text-anchor="middle" font-size="20" font-weight="700" fill="#fff">5</text>
</g>
</svg>
</body></html>
